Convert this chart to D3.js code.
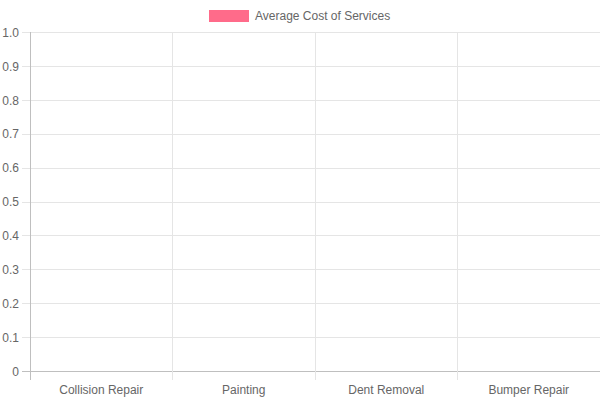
<!DOCTYPE html>
<html><head><meta charset="utf-8">
<script src="https://cdn.jsdelivr.net/npm/d3@7"></script>
<style>body{margin:0;background:#fff}svg{display:block}text{font-family:"Liberation Sans",Arial,sans-serif}</style>
</head><body><svg id="c" width="600" height="400"></svg>
<script>
const categories = ["Collision Repair", "Painting", "Dent Removal", "Bumper Repair"];
const values = [0, 0, 0, 0];
const yTicks = [0, 0.1, 0.2, 0.3, 0.4, 0.5, 0.6, 0.7, 0.8, 0.9, 1.0];
const seriesName = "Average Cost of Services";

const svg = d3.select("#c");
const L = 30, R = 600, T = 32, B = 371;
const x = d3.scaleBand().domain(categories).range([L, R]).paddingInner(0.1).paddingOuter(0.05);
const xb = d3.scaleBand().domain(categories).range([L, R]);
const y = d3.scaleLinear().domain([0, 1]).range([B, T]);

// horizontal grid
const yg = svg.append("g").attr("transform", `translate(${L},0)`)
  .call(d3.axisLeft(y).tickValues(yTicks).tickSize(-(R - L)).tickPadding(0).tickFormat(d => d === 0 ? "0" : d3.format(".1f")(d)));
yg.select(".domain").remove();
yg.selectAll(".tick line").attr("stroke", d => d === 0 ? "#bfbfbf" : "#e5e5e5").attr("x1", -8).attr("shape-rendering", "crispEdges");
yg.selectAll(".tick text").attr("x", -11).attr("fill", "#666").attr("font-size", 12).attr("dy", "0.35em");

// vertical grid
const xg = svg.append("g");
xg.selectAll("line").data(categories).join("line")
  .attr("x1", d => Math.floor(xb(d)) + 0.5).attr("x2", d => Math.floor(xb(d)) + 0.5)
  .attr("y1", T).attr("y2", B + 9)
  .attr("stroke", (d, i) => i === 0 ? "#bfbfbf" : "#e5e5e5");

// x labels
svg.append("g").selectAll("text").data(categories).join("text")
  .attr("x", d => xb(d) + xb.bandwidth() / 2).attr("y", 394)
  .attr("text-anchor", "middle").attr("fill", "#666").attr("font-size", 12).text(d => d);

// bars (all zero-valued)
svg.append("g").selectAll("rect").data(values).join("rect")
  .attr("x", (d, i) => x(categories[i])).attr("width", x.bandwidth())
  .attr("y", d => y(d)).attr("height", d => B - y(d))
  .attr("fill", "rgba(255,99,132,0.5)").attr("stroke", "none");

// legend
svg.append("rect").attr("x", 209).attr("y", 10).attr("width", 40).attr("height", 12).attr("fill", "rgb(255,99,132)").attr("opacity", 0.95);
svg.append("text").attr("x", 255).attr("y", 20).attr("fill", "#666").attr("font-size", 12).text(seriesName);
</script></body></html>
